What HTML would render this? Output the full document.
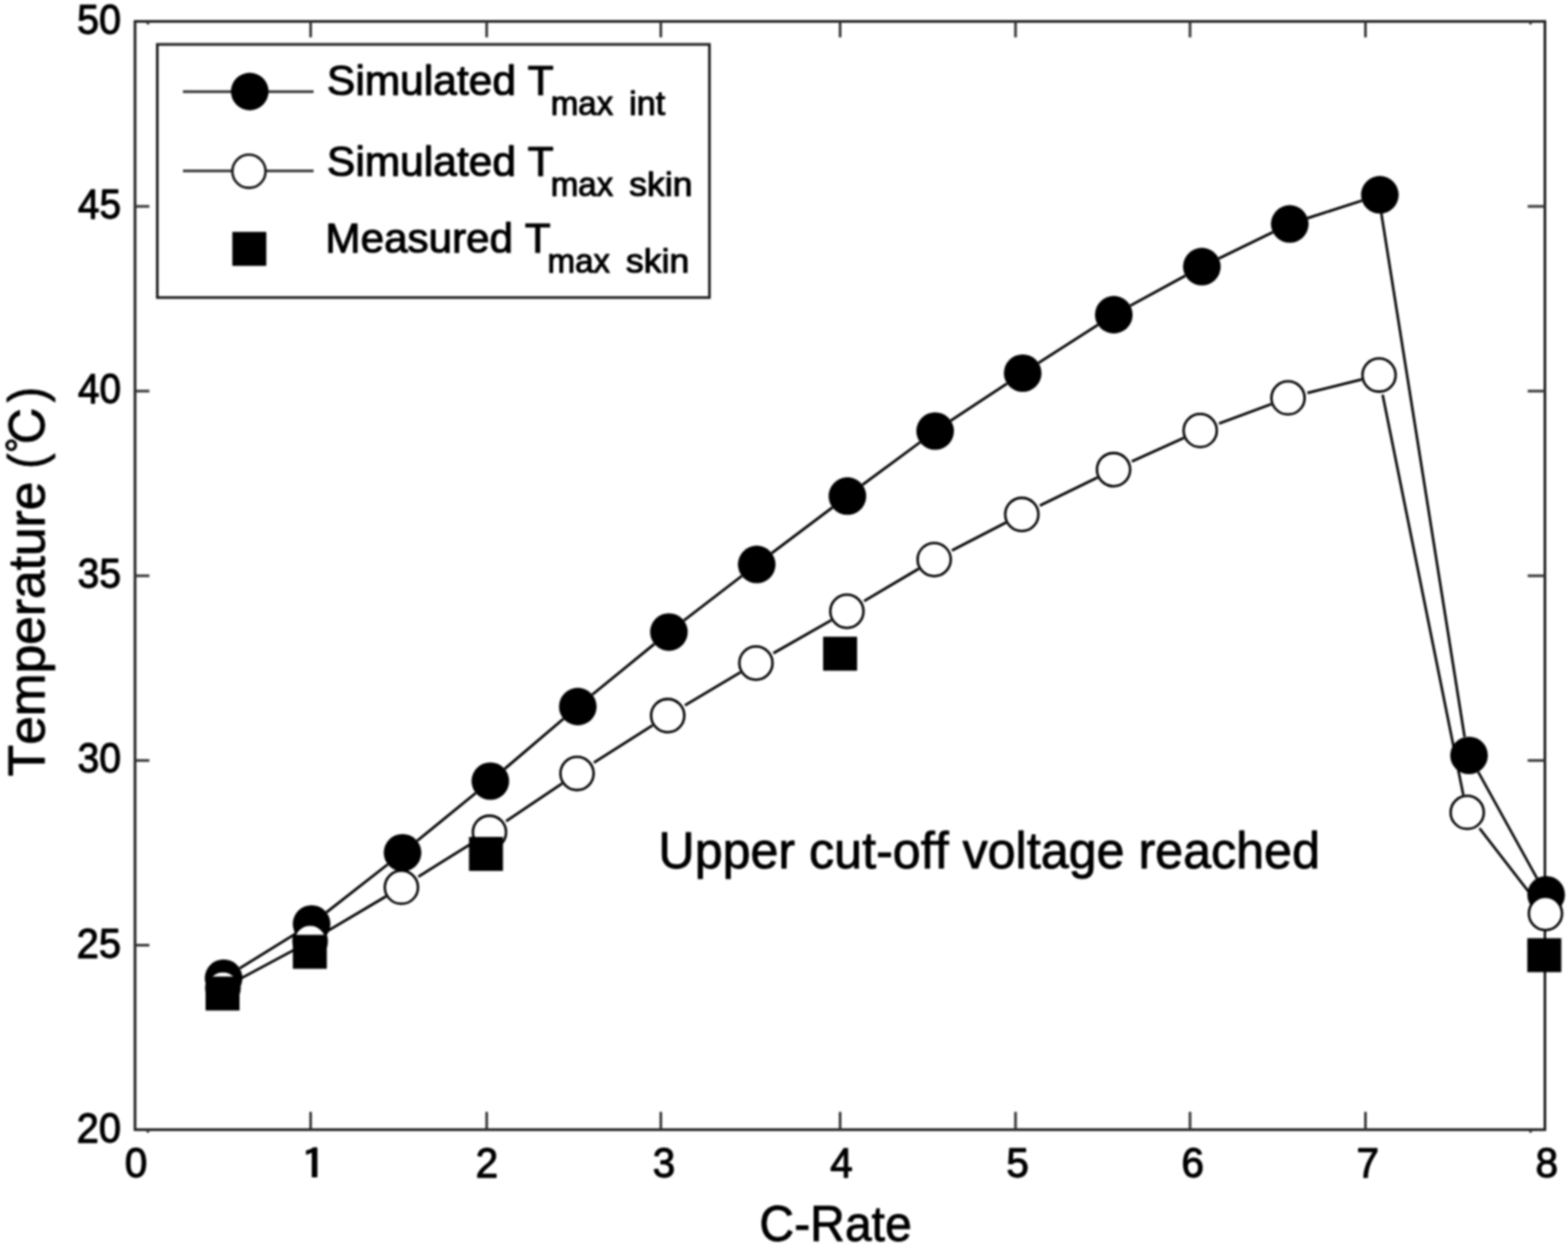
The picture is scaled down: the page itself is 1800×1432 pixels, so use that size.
<!DOCTYPE html>
<html lang="en">
<head>
<meta charset="utf-8">
<title>Temperature vs C-Rate</title>
<style>
html,body{margin:0;padding:0;background:#fff;}
body{width:1800px;height:1432px;overflow:hidden;}
svg{display:block;}
text{font-family:"Liberation Sans","Noto Sans CJK KR",sans-serif;fill:#000;stroke:#000;stroke-width:1.0px;stroke-linejoin:round;font-kerning:none;}
text.tk{stroke-width:1.3px;}
text.lg{stroke-width:1.2px;}
text .degc{font-family:IPAGothic,"Noto Sans CJK JP","Liberation Sans",sans-serif;}
text.one{font-family:IPAGothic,"Liberation Sans",sans-serif;stroke-width:1.0px;}
</style>
</head>
<body>
<svg width="1800" height="1432" viewBox="0 0 1800 1432" role="img" aria-label="Temperature versus C-Rate chart">
<defs><filter id="soft" filterUnits="userSpaceOnUse" x="-20" y="-20" width="1840" height="1472" color-interpolation-filters="sRGB"><feGaussianBlur stdDeviation="1.0"/></filter></defs>
<g filter="url(#soft)">
<rect x="-20" y="-20" width="1840" height="1472" fill="#fff"/>

<g fill="none" stroke="#1a1a1a" stroke-width="3.0">
<rect x="155.0" y="24.6" width="1618.5" height="1272.65"/>
</g>
<g fill="none" stroke="#333" stroke-width="3">
<line x1="356.6" y1="1297.25" x2="356.6" y2="1276.8"/>
<line x1="356.6" y1="24.6" x2="356.6" y2="42.9"/>
<line x1="558.7" y1="1297.25" x2="558.7" y2="1276.8"/>
<line x1="558.7" y1="24.6" x2="558.7" y2="42.9"/>
<line x1="758.6" y1="1297.25" x2="758.6" y2="1276.8"/>
<line x1="758.6" y1="24.6" x2="758.6" y2="42.9"/>
<line x1="964.4" y1="1297.25" x2="964.4" y2="1276.8"/>
<line x1="964.4" y1="24.6" x2="964.4" y2="42.9"/>
<line x1="1165.8" y1="1297.25" x2="1165.8" y2="1276.8"/>
<line x1="1165.8" y1="24.6" x2="1165.8" y2="42.9"/>
<line x1="1366.1" y1="1297.25" x2="1366.1" y2="1276.8"/>
<line x1="1366.1" y1="24.6" x2="1366.1" y2="42.9"/>
<line x1="1567.5" y1="1297.25" x2="1567.5" y2="1276.8"/>
<line x1="1567.5" y1="24.6" x2="1567.5" y2="42.9"/>
<line x1="155.0" y1="1085.4" x2="171.5" y2="1085.4"/>
<line x1="1773.5" y1="1085.4" x2="1753.7" y2="1085.4"/>
<line x1="155.0" y1="873.3" x2="171.5" y2="873.3"/>
<line x1="1773.5" y1="873.3" x2="1753.7" y2="873.3"/>
<line x1="155.0" y1="661.2" x2="171.5" y2="661.2"/>
<line x1="1773.5" y1="661.2" x2="1753.7" y2="661.2"/>
<line x1="155.0" y1="449.1" x2="171.5" y2="449.1"/>
<line x1="1773.5" y1="449.1" x2="1753.7" y2="449.1"/>
<line x1="155.0" y1="237.0" x2="171.5" y2="237.0"/>
<line x1="1773.5" y1="237.0" x2="1753.7" y2="237.0"/>
<line x1="169.8" y1="24.6" x2="169.8" y2="28.1"/>
<line x1="169.8" y1="1297.25" x2="169.8" y2="1300.75"/>
<line x1="1757.0" y1="24.6" x2="1757.0" y2="28.1"/>
<line x1="1757.0" y1="1297.25" x2="1757.0" y2="1300.75"/>
</g>
<g>
<text class="tk" font-size="48.2" x="143.21" y="1351.90" textLength="25.87" lengthAdjust="spacingAndGlyphs">0</text>
<text class="one" font-size="48.2" x="344.47" y="1354.2" textLength="31.50" lengthAdjust="spacingAndGlyphs">1</text>
<text class="tk" font-size="48.2" x="545.88" y="1351.90" textLength="25.87" lengthAdjust="spacingAndGlyphs">2</text>
<text class="tk" font-size="48.2" x="749.31" y="1351.90" textLength="25.87" lengthAdjust="spacingAndGlyphs">3</text>
<text class="tk" font-size="48.2" x="953.01" y="1351.90" textLength="25.87" lengthAdjust="spacingAndGlyphs">4</text>
<text class="tk" font-size="48.2" x="1155.28" y="1351.90" textLength="25.87" lengthAdjust="spacingAndGlyphs">5</text>
<text class="tk" font-size="48.2" x="1356.14" y="1351.90" textLength="25.87" lengthAdjust="spacingAndGlyphs">6</text>
<text class="tk" font-size="48.2" x="1557.28" y="1351.90" textLength="25.87" lengthAdjust="spacingAndGlyphs">7</text>
<text class="tk" font-size="48.2" x="1762.78" y="1351.90" textLength="25.87" lengthAdjust="spacingAndGlyphs">8</text>
<text class="tk" font-size="48.2" x="88.11" y="1311.65" textLength="50.84" lengthAdjust="spacingAndGlyphs">20</text>
<text class="tk" font-size="48.2" x="88.11" y="1099.54" textLength="50.84" lengthAdjust="spacingAndGlyphs">25</text>
<text class="tk" font-size="48.2" x="89.06" y="887.43" textLength="49.87" lengthAdjust="spacingAndGlyphs">30</text>
<text class="tk" font-size="48.2" x="89.06" y="675.32" textLength="49.87" lengthAdjust="spacingAndGlyphs">35</text>
<text class="tk" font-size="48.2" x="89.51" y="463.22" textLength="49.39" lengthAdjust="spacingAndGlyphs">40</text>
<text class="tk" font-size="48.2" x="89.51" y="251.11" textLength="49.39" lengthAdjust="spacingAndGlyphs">45</text>
<text class="tk" font-size="48.2" x="88.59" y="39.00" textLength="50.35" lengthAdjust="spacingAndGlyphs">50</text>
</g>
<text  font-size="57.5" x="871.84" y="1425.20" textLength="174.75" lengthAdjust="spacingAndGlyphs">C-Rate</text>
<text transform="translate(50.6,890.3) rotate(-90)"><tspan  font-size="60.0" x="-1.18" y="0.00" textLength="338.32" lengthAdjust="spacingAndGlyphs">Temperature</tspan> <tspan  font-size="60.0" x="352.07" y="0.00" textLength="17.39" lengthAdjust="spacingAndGlyphs">(</tspan><tspan class="degc" font-size="56.0" x="369.79" y="2.20" textLength="56.12" lengthAdjust="spacingAndGlyphs">℃</tspan><tspan  font-size="60.0" x="428.40" y="0.00" textLength="17.60" lengthAdjust="spacingAndGlyphs">)</tspan></text>
<text  font-size="59.3" x="755.76" y="997.10" textLength="759.47" lengthAdjust="spacingAndGlyphs">Upper cut-off voltage reached</text>
<g fill="none" stroke="#000" stroke-width="3.0" stroke-linecap="butt">
<line x1="275.1" y1="1112.0" x2="339.3" y2="1072.3"/>
<line x1="374.7" y1="1047.7" x2="445.1" y2="992.6"/>
<line x1="478.8" y1="965.6" x2="546.2" y2="910.7"/>
<line x1="579.3" y1="883.0" x2="646.9" y2="825.4"/>
<line x1="680.0" y1="797.7" x2="751.2" y2="739.5"/>
<line x1="785.0" y1="712.6" x2="851.6" y2="661.4"/>
<line x1="885.9" y1="635.2" x2="955.6" y2="582.7"/>
<line x1="990.1" y1="556.8" x2="1056.2" y2="507.9"/>
<line x1="1091.5" y1="483.1" x2="1156.0" y2="440.4"/>
<line x1="1192.2" y1="416.8" x2="1260.4" y2="373.1"/>
<line x1="1297.6" y1="351.0" x2="1360.7" y2="316.6"/>
<line x1="1399.1" y1="296.8" x2="1461.2" y2="266.6"/>
<line x1="1501.1" y1="250.5" x2="1563.5" y2="230.4"/>
<line x1="1585.7" y1="245.0" x2="1681.3" y2="846.2" stroke-width="2.9"/>
<line x1="1696.9" y1="886.4" x2="1764.4" y2="1008.6" stroke-width="2.9"/>
<line x1="276.2" y1="1123.7" x2="337.8" y2="1090.7"/>
<line x1="375.8" y1="1069.3" x2="443.1" y2="1029.4"/>
<line x1="480.3" y1="1006.7" x2="544.4" y2="966.7"/>
<line x1="581.0" y1="943.0" x2="645.3" y2="899.7"/>
<line x1="681.8" y1="875.8" x2="749.1" y2="832.9"/>
<line x1="786.3" y1="810.0" x2="850.1" y2="772.0"/>
<line x1="887.8" y1="750.1" x2="954.3" y2="712.2"/>
<line x1="992.0" y1="690.3" x2="1054.7" y2="653.1"/>
<line x1="1092.8" y1="632.1" x2="1154.7" y2="600.2"/>
<line x1="1193.7" y1="580.7" x2="1259.8" y2="548.4"/>
<line x1="1299.3" y1="529.8" x2="1359.0" y2="502.9"/>
<line x1="1399.4" y1="486.4" x2="1459.3" y2="464.1"/>
<line x1="1500.9" y1="451.3" x2="1563.1" y2="435.7"/>
<line x1="1587.2" y1="453.2" x2="1679.8" y2="912.7" stroke-width="2.9"/>
<line x1="1698.4" y1="951.1" x2="1761.5" y2="1032.7" stroke-width="2.9"/>
</g>
<g fill="#000">
<circle cx="256.7" cy="1123.3" r="21.6"/>
<circle cx="357.7" cy="1061" r="21.6"/>
<circle cx="462.1" cy="979.3" r="21.6"/>
<circle cx="562.9" cy="897" r="21.6"/>
<circle cx="663.3" cy="811.4" r="21.6"/>
<circle cx="767.9" cy="725.8" r="21.6"/>
<circle cx="868.7" cy="648.2" r="21.6"/>
<circle cx="972.8" cy="569.7" r="21.6"/>
<circle cx="1073.5" cy="495" r="21.6"/>
<circle cx="1174" cy="428.5" r="21.6"/>
<circle cx="1278.6" cy="361.4" r="21.6"/>
<circle cx="1379.7" cy="306.2" r="21.6"/>
<circle cx="1480.6" cy="257.2" r="21.6"/>
<circle cx="1584" cy="223.7" r="21.6"/>
<circle cx="1686.4" cy="867.5" r="21.6"/>
<circle cx="1774.9" cy="1027.5" r="21.6"/>
</g>
<g fill="#fff" stroke="#000" stroke-width="2.8">
<circle cx="255.9" cy="1134.5" r="19.05"/>
<circle cx="356" cy="1081" r="19.05"/>
<circle cx="460.8" cy="1018.9" r="19.05"/>
<circle cx="561.9" cy="955.8" r="19.05"/>
<circle cx="662.4" cy="888.2" r="19.05"/>
<circle cx="766.5" cy="821.8" r="19.05"/>
<circle cx="867.8" cy="761.5" r="19.05"/>
<circle cx="972.2" cy="702" r="19.05"/>
<circle cx="1072.4" cy="642.6" r="19.05"/>
<circle cx="1173" cy="590.8" r="19.05"/>
<circle cx="1278.3" cy="539.3" r="19.05"/>
<circle cx="1377.8" cy="494.4" r="19.05"/>
<circle cx="1478.6" cy="456.9" r="19.05"/>
<circle cx="1583.1" cy="430.7" r="19.05"/>
<circle cx="1684.3" cy="932.9" r="19.05"/>
<circle cx="1774.1" cy="1049" r="19.05"/>
</g>
<g fill="#000">
<rect x="236.0" y="1121.4" width="39.0" height="39.0"/>
<rect x="336.2" y="1073.5" width="39.0" height="39.0"/>
<rect x="538.4" y="961.1" width="39.0" height="39.0"/>
<rect x="944.9" y="731.2" width="39.0" height="39.0"/>
<rect x="1753.3" y="1077.4" width="39.0" height="39.0"/>
</g>
<rect x="180.6" y="51.0" width="633.8" height="290.7" fill="#fff" stroke="#1a1a1a" stroke-width="3.0"/>
<g fill="none" stroke="#303030" stroke-width="3">
<line x1="210" y1="105.3" x2="360" y2="105.3"/>
<line x1="210" y1="196.3" x2="360" y2="196.3"/>
</g>
<circle cx="286.7" cy="105.1" r="21.6" fill="#000"/>
<circle cx="285.8" cy="196.7" r="19.05" fill="#fff" stroke="#111" stroke-width="2.8"/>
<rect x="266.7" y="266.3" width="39.0" height="39.0" fill="#000"/>
<text class="lg"><tspan  font-size="47.5" x="375.35" y="108.80" textLength="260.27" lengthAdjust="spacingAndGlyphs">Simulated T</tspan><tspan  font-size="38.8" x="632.22" y="131.80" textLength="71.76" lengthAdjust="spacingAndGlyphs">max</tspan> <tspan  font-size="38.8" x="722.36" y="131.80" textLength="41.15" lengthAdjust="spacingAndGlyphs">int</tspan></text>
<text class="lg"><tspan  font-size="47.5" x="375.35" y="202.00" textLength="260.27" lengthAdjust="spacingAndGlyphs">Simulated T</tspan><tspan  font-size="38.8" x="632.22" y="225.00" textLength="71.76" lengthAdjust="spacingAndGlyphs">max</tspan> <tspan  font-size="38.8" x="722.38" y="225.00" textLength="72.50" lengthAdjust="spacingAndGlyphs">skin</tspan></text>
<text class="lg"><tspan  font-size="47.5" x="373.63" y="290.30" textLength="258.38" lengthAdjust="spacingAndGlyphs">Measured T</tspan><tspan  font-size="38.8" x="628.62" y="313.30" textLength="71.66" lengthAdjust="spacingAndGlyphs">max</tspan> <tspan  font-size="38.8" x="718.58" y="313.30" textLength="72.71" lengthAdjust="spacingAndGlyphs">skin</tspan></text>
</g>
</svg>
</body>
</html>
